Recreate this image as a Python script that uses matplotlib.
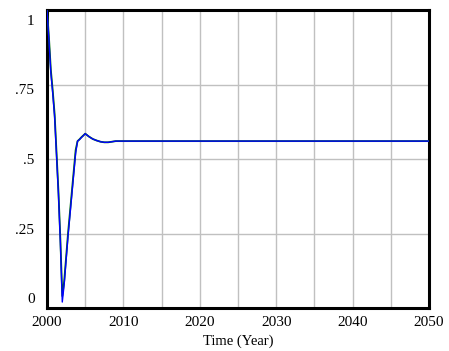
import matplotlib
matplotlib.use("Agg")
import matplotlib.pyplot as plt
import numpy as np

# Time points (years) and series values
years = [2000, 2000.25, 2000.5, 2000.75, 2001, 2001.25, 2001.5, 2001.75, 2002,
         2002.25, 2002.5, 2002.75, 2003, 2003.25, 2003.5, 2003.75, 2004,
         2004.25, 2004.5, 2004.75, 2005, 2005.5, 2006, 2006.5, 2007, 2007.5,
         2008, 2008.5, 2009, 2050]
blue_vals = [1.0, 0.90, 0.79, 0.72, 0.64, 0.51, 0.38, 0.22, 0.02,
             0.08, 0.16, 0.24, 0.31, 0.38, 0.45, 0.52, 0.56,
             0.565, 0.572, 0.578, 0.585, 0.575, 0.567, 0.562, 0.558, 0.556,
             0.556, 0.558, 0.56, 0.56]
green_vals = [1.0, 0.91, 0.80, 0.73, 0.65, 0.52, 0.39, 0.23, 0.04,
              0.09, 0.17, 0.25, 0.32, 0.39, 0.46, 0.53, 0.56,
              0.566, 0.573, 0.579, 0.585, 0.575, 0.567, 0.562, 0.558, 0.556,
              0.556, 0.558, 0.56, 0.56]

x_ticks = [2000, 2010, 2020, 2030, 2040, 2050]
x_grid = list(range(2000, 2051, 5))
y_grid = [0, 0.25, 0.5, 0.75, 1.0]
y_labels = ["1", ".75", ".5", ".25", "0"]

plt.rcParams['font.family'] = ['Liberation Serif', 'DejaVu Serif']

fig = plt.figure(figsize=(4.49, 3.51), dpi=100)
ax = fig.add_axes([47/449, 43/351, 382/449, 298/351])
ax.xaxis.remove_overlapping_locs = False
ax.yaxis.remove_overlapping_locs = False

ax.plot(years, green_vals, color="#007000", lw=1.3, zorder=3)
ax.plot(years, blue_vals, color="#0000ff", lw=1.0, zorder=4)

ax.set_xlim(2000, 2050)
ax.set_ylim(0, 1)

ax.set_xticks(x_grid)
ax.set_xticklabels([])
ax.set_xticks(x_ticks, minor=True)
ax.set_xticklabels([str(t) for t in x_ticks], minor=True)
ax.set_yticks(y_grid)
ax.set_yticklabels([])
lab_pos = np.linspace(1 - 10/298, 1 - 288/298, 5)
ax.set_yticks(lab_pos, minor=True)
ax.set_yticklabels(y_labels, minor=True)

ax.tick_params(which="both", length=0)
ax.tick_params(axis="x", which="minor", pad=6, labelsize=11)
ax.tick_params(axis="y", which="minor", pad=9, labelsize=11)
ax.grid(True, which="major", color="#c0c0c0", lw=1.0)
ax.set_axisbelow(True)

for s in ax.spines.values():
    s.set_linewidth(2.2)
    s.set_color("black")

ax.set_xlabel("Time (Year)", fontsize=10.5, labelpad=4)

fig.savefig("out.png", dpi=100)
